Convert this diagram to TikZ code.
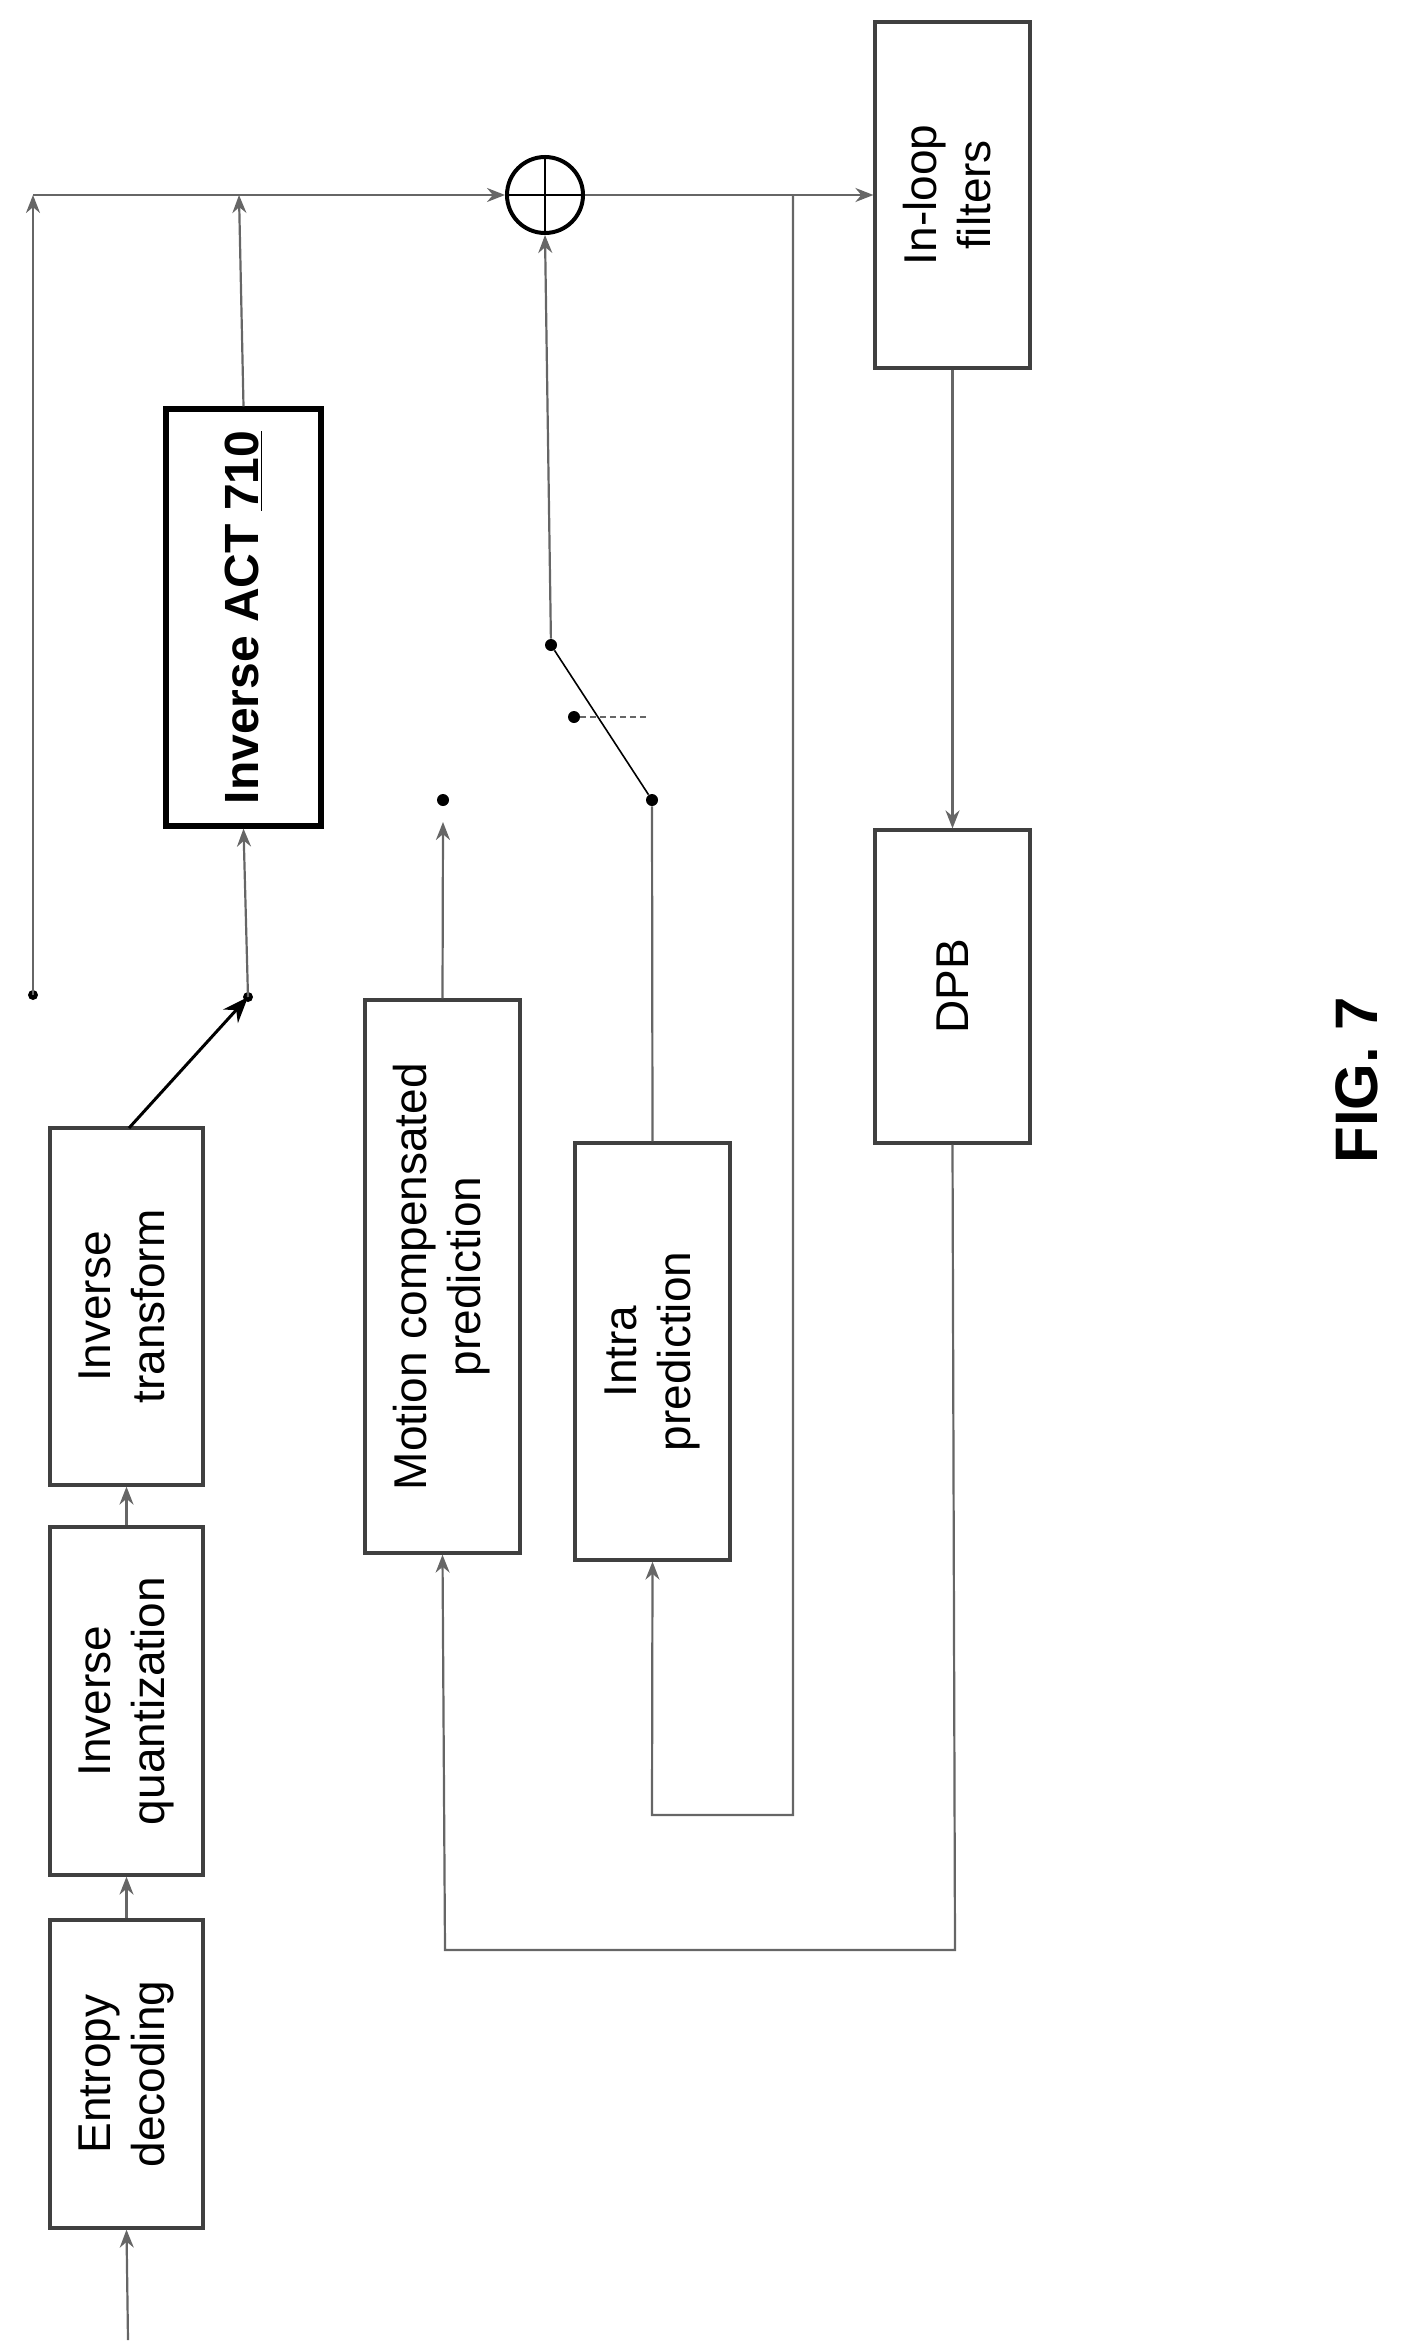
\documentclass[tikz,border=0pt]{standalone}
\usepackage{fontspec}
\setmainfont{Liberation Sans}
\usetikzlibrary{arrows.meta}
\begin{document}
\begin{tikzpicture}[x=0.5pt,y=-0.5pt,
  box/.style={draw=black!75,line width=1.6pt,rectangle,inner sep=0pt,font=\fontsize{23}{27}\selectfont,align=center},
  ln/.style={draw=black!60,line width=1.1pt},
  ar/.style={ln,-{Stealth[length=9pt,width=7pt]}},
  dot/.style={circle,fill=black,inner sep=0pt,minimum size=6pt}]
\useasboundingbox (0,0) rectangle (1409,2349);
\node[box,minimum width=153*0.5pt,minimum height=308*0.5pt] (ent) at (126.5,2074) {\rotatebox{90}{\begin{tabular}{c}Entropy\\decoding\end{tabular}}};
\node[box,minimum width=153*0.5pt,minimum height=348*0.5pt] (iq) at (126.5,1701) {\rotatebox{90}{\begin{tabular}{c}Inverse\\quantization\end{tabular}}};
\node[box,minimum width=153*0.5pt,minimum height=357*0.5pt] (it) at (126.5,1306.5) {\rotatebox{90}{\begin{tabular}{c}Inverse\\transform\end{tabular}}};
\node[box,draw=black,line width=2.6pt,font=\fontsize{24}{28}\selectfont\bfseries,minimum width=155*0.5pt,minimum height=417*0.5pt] (act) at (243.5,617.5) {\rotatebox{90}{Inverse ACT \underline{710}}};
\node[box,minimum width=155*0.5pt,minimum height=553*0.5pt] (mc) at (442.5,1276.5) {\rotatebox{90}{\begin{tabular}{c}Motion compensated\\prediction\end{tabular}}};
\node[box,minimum width=155*0.5pt,minimum height=417*0.5pt] (ip) at (652.5,1351.5) {\rotatebox{90}{\begin{tabular}{c}Intra\\prediction\end{tabular}}};
\node[box,minimum width=155*0.5pt,minimum height=313*0.5pt] (dpb) at (952.5,986.5) {\rotatebox{90}{DPB}};
\node[box,minimum width=155*0.5pt,minimum height=346*0.5pt] (ilf) at (952.5,195) {\rotatebox{90}{\begin{tabular}{c}In-loop\\filters\end{tabular}}};
\node[circle,draw=black,line width=2pt,minimum size=38pt,inner sep=0pt] (add) at (545,195) {};
\draw[line width=1.2pt] (add.north)--(add.south) (add.west)--(add.east);
\node[font=\fontsize{30}{34}\selectfont\bfseries,rotate=90] (fig) at (1357,1080) {FIG. 7};
% coordinates
\coordinate (in) at (128,2340);
\coordinate (sw) at (248,997);
\coordinate (ld) at (33,995);
\coordinate (lt) at (33,195);
\coordinate (at) at (239,195);
\coordinate (fb1) at (793,195);
\coordinate (fb2) at (793,1815);
\coordinate (fb3) at (652,1815);
\coordinate (db1) at (955,1950);
\coordinate (db2) at (445,1950);
\node[dot] (mcd1) at (443,800) {};
\coordinate (mcd2) at (443,822);
\node[dot] (s1) at (652,800) {};
\node[dot] (s2) at (551,645) {};
\node[dot] (s3) at (574,717) {};
\coordinate (s4) at (647,717);
\node[dot,minimum size=5pt] at (ld) {};
\node[dot,minimum size=5pt] at (sw) {};
% connectors
\draw[ar] (in) -- (ent.south);
\draw[ar] (ent.north) -- (iq.south);
\draw[ar] (iq.north) -- (it.south);
\draw[line width=1.5pt,-{Stealth[length=13pt,width=10pt]}] (129,1128) -- (sw);
\draw[ar] (sw) -- (act.south);
\draw[ar] (act.north) -- (at);
\draw[ar] (ld) -- (lt);
\draw[ar] (lt) -- (add.west);
\draw[ar] (add.east) -- (ilf.west);
\draw[ar] (fb1) -- (fb2) -- (fb3) -- (ip.south);
\draw[ar] (ilf.south) -- (dpb.north);
\draw[ar] (dpb.south) -- (db1) -- (db2) -- (mc.south);
\draw[ar] (mc.north) -- (mcd2);
\draw[ln] (ip.north) -- (s1);
\draw[black,line width=0.8pt] (s1) -- (s2);
\draw[ln,densely dashed] (s3) -- (s4);
\draw[ar] (s2) -- (add.south);
\end{tikzpicture}
\end{document}
